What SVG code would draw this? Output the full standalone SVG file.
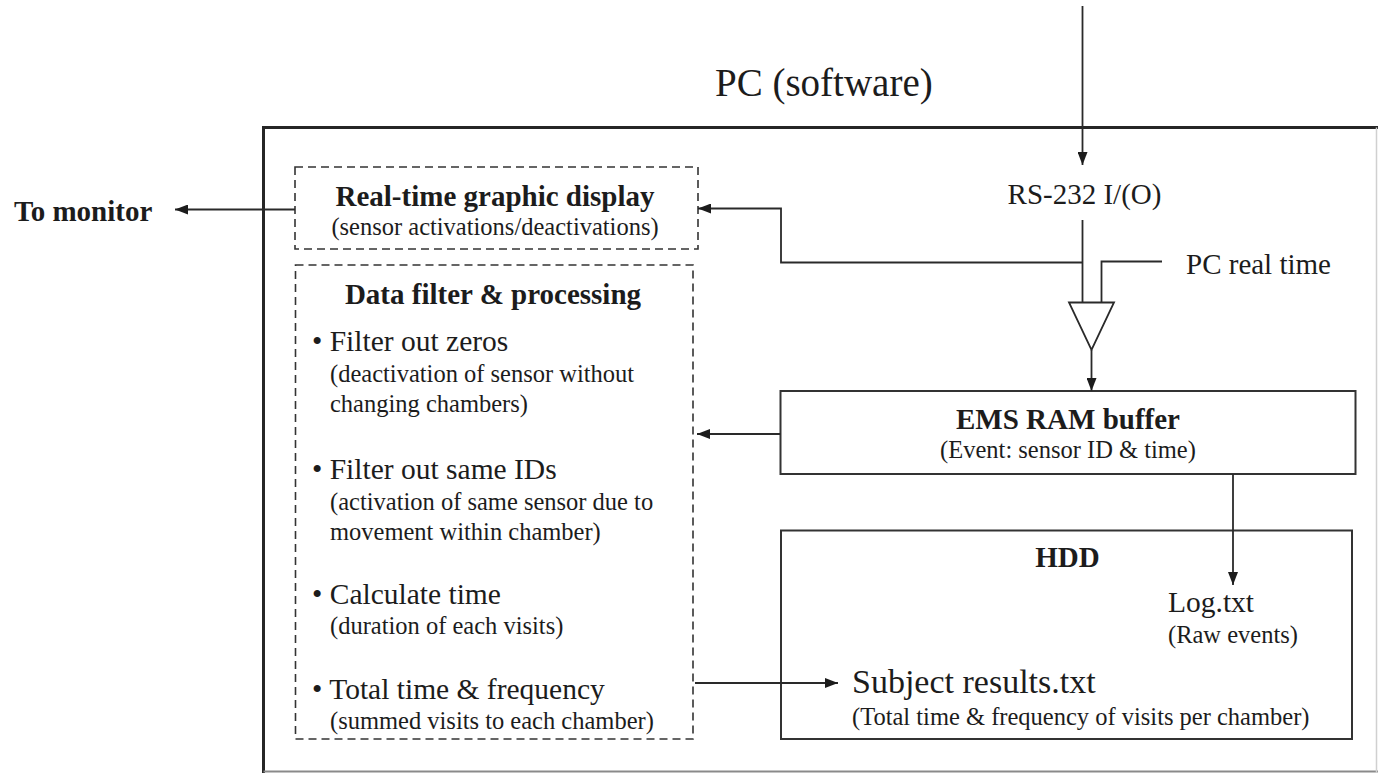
<svg xmlns="http://www.w3.org/2000/svg" width="1378" height="773" viewBox="0 0 1378 773">
  <defs>
    <style>
      text { font-family: "Liberation Serif", "Times New Roman", serif; fill: #1c1c1c; }
      .b { font-weight: bold; font-size: 29px; }
      .m { font-size: 29.5px; }
      .s { font-size: 24.5px; }
      .c { text-anchor: middle; }
      .wire { fill: none; stroke: #2a2a2a; stroke-width: 1.8; }
      .box { fill: none; stroke: #333; stroke-width: 2; }
      .dash { fill: none; stroke: #333; stroke-width: 1.6; stroke-dasharray: 8 5; }
    </style>
    <marker id="arr" markerUnits="userSpaceOnUse" markerWidth="14" markerHeight="10" refX="13" refY="5" orient="auto">
      <path d="M0,0 L13,5 L0,10 z" fill="#1c1c1c"/>
    </marker>
  </defs>
  <rect width="1378" height="773" fill="#fff"/>

  <!-- PC enclosure -->
  <g id="pc-frame">
    <path d="M1378,127.5 H263.5 V773" fill="none" stroke="#262626" stroke-width="3"/>
    <path d="M263.5,771.5 H1378" fill="none" stroke="#8a8a8a" stroke-width="2"/>
    <path d="M1376.5,127.5 V773" fill="none" stroke="#d0d0d0" stroke-width="1.5"/>
    <text x="715" y="96" style="font-size:39px">PC (software)</text>
  </g>

  <g id="to-monitor">
    <text class="b" x="14" y="220.5">To monitor</text>
  </g>

  <g id="realtime-display">
    <rect class="dash" x="295" y="167" width="403" height="82"/>
    <text class="b c" x="495" y="205.5">Real-time graphic display</text>
    <text class="s c" x="495" y="235">(sensor activations/deactivations)</text>
  </g>

  <g id="data-filter">
    <rect class="dash" x="295.5" y="265" width="397.5" height="474"/>
    <text class="b c" x="493" y="304">Data filter &amp; processing</text>
    <text class="m" x="312" y="351">• Filter out zeros</text>
    <text class="s" x="330" y="381.5">(deactivation of sensor without</text>
    <text class="s" x="330" y="412">changing chambers)</text>
    <text class="m" x="312" y="479">• Filter out same IDs</text>
    <text class="s" x="330" y="509.5">(activation of same sensor due to</text>
    <text class="s" x="330" y="539.5">movement within chamber)</text>
    <text class="m" x="312" y="604">• Calculate time</text>
    <text class="s" x="330" y="634">(duration of each visits)</text>
    <text class="m" x="312" y="698.5">• Total time &amp; frequency</text>
    <text class="s" x="330" y="729">(summed visits to each chamber)</text>
  </g>

  <g id="rs232">
    <text class="m c" x="1084.5" y="204" style="font-size:29px">RS-232 I/(O)</text>
  </g>

  <g id="pc-real-time">
    <text class="m" x="1186" y="274" style="font-size:29px">PC real time</text>
  </g>

  <g id="merge">
    <polygon points="1069,302.5 1114,302.5 1091.5,350" fill="#fff" stroke="#2a2a2a" stroke-width="1.8" stroke-linejoin="miter"/>
  </g>

  <g id="ems-buffer">
    <rect class="box" x="780.5" y="391" width="575" height="83"/>
    <text class="b c" x="1068" y="428.5">EMS RAM buffer</text>
    <text class="s c" x="1068" y="458">(Event: sensor ID &amp; time)</text>
  </g>

  <g id="hdd">
    <rect class="box" x="781" y="530.5" width="571" height="208.5"/>
    <text class="b c" x="1067.5" y="566.5">HDD</text>
    <text class="m" x="1168" y="611.5">Log.txt</text>
    <text class="s" x="1168" y="642.5">(Raw events)</text>
    <text x="852" y="693" style="font-size:34px">Subject results.txt</text>
    <text class="s" x="852" y="725">(Total time &amp; frequency of visits per chamber)</text>
  </g>

  <g id="connectors">
    <path class="wire" d="M1082.5,6 V165" marker-end="url(#arr)"/>
    <path class="wire" d="M1082.5,220 V302.5"/>
    <path class="wire" d="M1082.5,262.5 H781 V208.5 H698" marker-end="url(#arr)"/>
    <path class="wire" d="M1162,261.5 H1101.5 V302.5"/>
    <path class="wire" d="M1091.5,350 V391" marker-end="url(#arr)"/>
    <path class="wire" d="M780.5,434 H697" marker-end="url(#arr)"/>
    <path class="wire" d="M1233,474 V585" marker-end="url(#arr)"/>
    <path class="wire" d="M295,209.5 H175" marker-end="url(#arr)"/>
    <path class="wire" d="M695,683 H838" marker-end="url(#arr)"/>
  </g>
</svg>
